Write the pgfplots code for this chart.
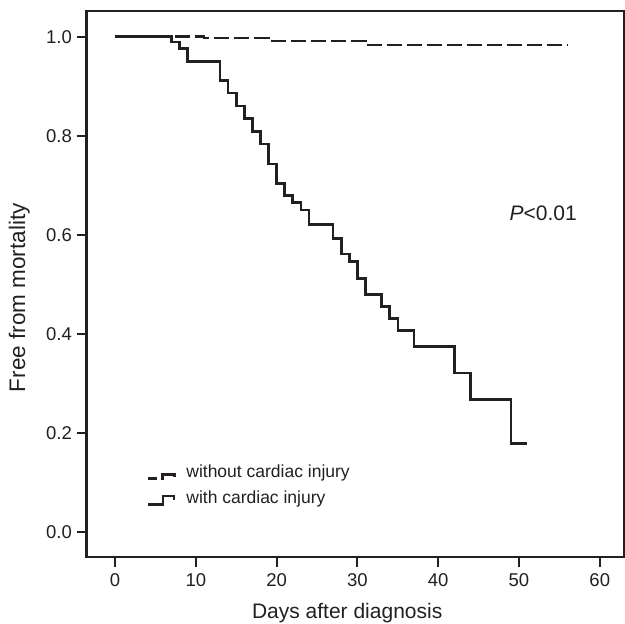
\documentclass[border=0pt]{standalone}
\usepackage{fontspec}
\setmainfont{Liberation Sans}
\usepackage{pgfplots}
\pgfplotsset{compat=1.18}
\definecolor{ink}{HTML}{231F20}
\begin{document}
\begin{tikzpicture}
\begin{axis}[
  scale only axis, width=537.3pt, height=546pt,
  xmin=-3.51, xmax=63, ymin=-0.0505, ymax=1.0519,
  axis line style={line width=2.6pt, ink},
  tick align=outside, tick pos=left,
  major tick length=10pt,
  every tick/.style={line width=2pt, ink},
  xtick={0,10,20,30,40,50,60},
  ytick={0,0.2,0.4,0.6,0.8,1},
  yticklabel style={/pgf/number format/.cd, fixed, fixed zerofill, precision=1, /tikz/.cd, inner sep=4.7pt},
  xticklabel style={inner sep=6.2pt},
  /pgf/number format/assume math mode=true,
  tick label style={font=\fontsize{18.5}{22}\selectfont, text=ink},
  xlabel={Days after diagnosis},
  ylabel={Free from mortality},
  xlabel style={font=\fontsize{21}{25}\selectfont, text=ink, at={(axis description cs:0.4848,-0.1123)}, anchor=base},
  ylabel style={font=\fontsize{22.5}{27}\selectfont, text=ink, at={(axis description cs:-0.1148,0.475)}, anchor=base, rotate=0},
  legend style={draw=none, fill=none, at={(0.112,0.172)}, anchor=north west,
    inner sep=0pt, row sep=7.3pt, font=\fontsize{17.5}{21}\selectfont,
    cells={anchor=west}, nodes={inner sep=2pt, text depth=0.15em, text=ink}},
]
\addplot[const plot, line width=2.6pt, ink, dash pattern=on 15pt off 5pt,
  legend image code/.code={
    \path[draw=none, fill=none] (0pt,-8pt) rectangle (36pt,8pt);
    \draw[line width=2.6pt, ink, dash pattern=on 9pt off 4pt on 40pt off 1pt]
      (0pt,-6pt) -- (14pt,-6pt) -- (14pt,-2pt) -- (26pt,-2pt) -- (26pt,-5pt);
  }] table {
x y
0 1.0
11 0.997
19 0.991
31 0.983
56 0.983
};
\addlegendentry{without cardiac injury}
\addplot[const plot, line width=2.6pt, ink,
  legend image code/.code={
    \path[draw=none, fill=none] (0pt,-8pt) rectangle (36pt,8pt);
    \draw[line width=2.6pt, ink]
      (0pt,-6.5pt) -- (14.7pt,-6.5pt) -- (14.7pt,2pt) -- (25.7pt,2pt) -- (25.7pt,-2.5pt);
  }] table {
x y
0 1.0
7 0.989
8 0.976
9 0.950
13 0.912
14 0.886
15 0.860
16 0.835
17 0.808
18 0.783
19 0.743
20 0.704
21 0.679
22 0.665
23 0.650
24 0.621
27 0.592
28 0.561
29 0.546
30 0.512
31 0.479
33 0.455
34 0.431
35 0.407
37 0.375
42 0.321
44 0.268
49 0.179
51 0.179
};
\addlegendentry{with cardiac injury}
\node[font=\fontsize{21}{25}\selectfont, text=ink, inner sep=0pt] at (axis cs:53.0,0.644) {\textit{P}<0.01};
\end{axis}
\pgfresetboundingbox
\path ([xshift=-86.7pt,yshift=-66pt]current axis.south west) rectangle ([xshift=1pt,yshift=11pt]current axis.north east);
\end{tikzpicture}
\end{document}
